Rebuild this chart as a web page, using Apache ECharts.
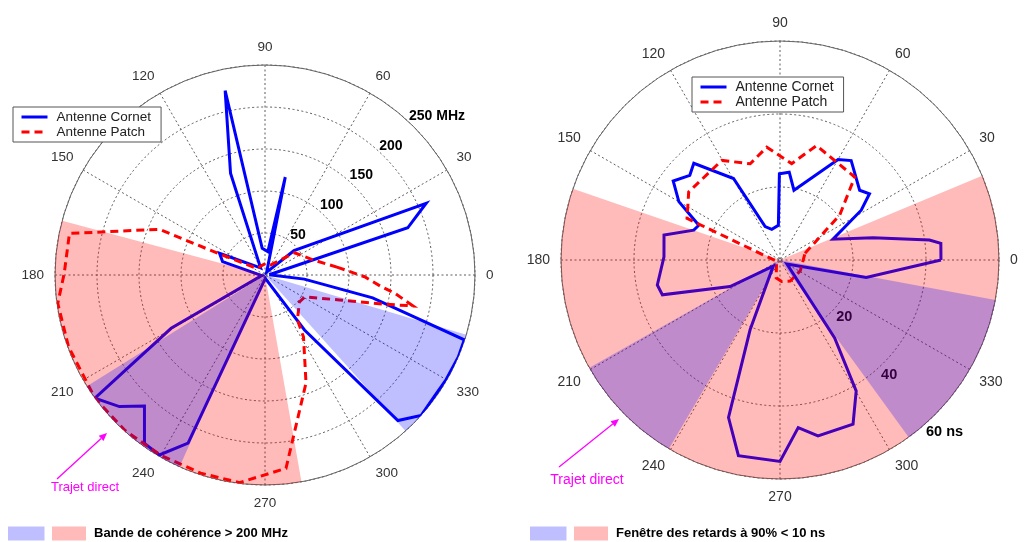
<!DOCTYPE html>
<html>
<head>
<meta charset="utf-8">
<script src="https://cdn.jsdelivr.net/npm/echarts@6.0.0/dist/echarts.min.js"></script>
<style>
html,body{margin:0;padding:0;background:#fff;}
#c{width:1024px;height:542px;}
</style>
</head>
<body>
<div id="c"></div>
<script>
// ---------------- DATA ----------------
const seriesNames = ['Antenne Cornet', 'Antenne Patch'];

const leftRadiusTicks = [50, 100, 150, 200, 250];
const leftRadiusLabels = ['50', '100', '150', '200', '250 MHz'];
const rightRadiusTicks = [20, 40, 60];
const rightRadiusLabels = ['20', '40', '60 ns'];

// [radius, angle in degrees]  -- left: coherence bandwidth (MHz)
const leftCornet = [
  [5, 3], [179, 18.3], [210, 24], [45, 40], [4, 60], [119, 78.3], [28, 83], [32, 96],
  [224.5, 102.2], [128, 108.7], [10, 122], [60, 154.5], [53, 162.5], [4, 190],
  [128.5, 209.6], [250, 215.9], [233.6, 222.1], [212, 227.4], [246.5, 234.4],
  [248.4, 239.6], [220, 245.4], [4, 275], [80.6, 305.7], [234.6, 312.4], [250, 318],
  [248, 324.3], [249, 330], [250, 337], [249.5, 342], [131, 348], [47, 354], [5, 3]
];
const leftPatch = [
  [87, 6], [60, 17.4], [44, 37], [14, 60], [14, 84], [12, 110], [12, 140], [62, 155.3],
  [137, 156.6], [238, 168], [239, 179.5], [249, 187.8], [249, 200], [250, 216], [249, 228],
  [248, 240], [248, 252], [249, 263], [231.5, 276.2], [137.5, 290.8], [87, 301.8],
  [66, 305.8], [52, 322], [54, 331], [93.5, 341.5], [148.4, 346.4], [180, 348.2],
  [156, 352], [139, 354.3], [118.5, 359], [87, 6]
];
// right: 90% delay window (ns)
const rightCornet = [
  [44.1, 0], [44.3, 5.9], [41.3, 7.6], [26.2, 13.5], [15.6, 21.5], [26.1, 31.5], [30.5, 36.5],
  [29, 41.2], [33.5, 54.4], [31.8, 60], [19.5, 78.7], [24.2, 84], [23.6, 90.4], [9.5, 92.7],
  [8.7, 105], [10, 114], [25.7, 119.7], [35.5, 131.7], [33.9, 136.8], [36.4, 143.5], [32, 150],
  [24.2, 156.8], [25, 160.9], [32.5, 167.9], [31.8, 178.4], [34.3, 191.5], [33.6, 196.5],
  [15.5, 208], [2.5, 222], [20.8, 246.8], [45.4, 251.9], [54.8, 258], [55.2, 270],
  [46.2, 276.2], [49.3, 282.2], [49.2, 294], [41.5, 300.2], [26.1, 305], [2.2, 330],
  [24.1, 348.5], [44.1, 0]
];
const rightPatch = [
  [7.1, 15], [20.5, 37], [30.6, 48], [32.9, 72.3], [26.6, 83.1], [31.1, 96.7], [27.6, 107.2],
  [31.6, 120.3], [31.2, 143.3], [27.9, 155.9], [1, 200], [5, 258], [5.9, 274.5], [6.4, 296],
  [6.3, 332], [7.1, 15]
];

// shaded angular sectors [startAngle, endAngle]
const leftPinkSectors = [[165, 280]];
const leftBlueSectors = [[212, 246], [312, 343.5]];
const rightPinkSectors = [[161, 382.6]];
const rightBlueSectors = [[209.5, 239.5], [306, 349.5]];

const bottomLegendLeft = 'Bande de cohérence > 200 MHz';
const bottomLegendRight = 'Fenêtre des retards à 90% < 10 ns';
const annotationText = 'Trajet direct';

// ---------------- STYLE / LAYOUT ----------------
const FONT = '"Liberation Sans", Arial, sans-serif';
const PINK = 'rgba(255,0,0,0.27)';
const BLUE = 'rgba(0,0,255,0.25)';
const GRID = {color: '#333', width: 0.8, type: [2, 2.5]};

function angleAxis(i, fs) {
  return {
    polarIndex: i, type: 'value', min: 0, max: 360, interval: 30,
    startAngle: 0, clockwise: false,
    axisLine: {show: true, lineStyle: {color: '#666', width: 1}},
    axisTick: {show: false},
    axisLabel: {show: true, margin: 11, color: '#333', fontSize: fs, fontFamily: FONT,
      formatter: v => (v >= 360 ? '' : String(v))},
    splitLine: {show: true, lineStyle: GRID}
  };
}
function radiusAxis(i, ticks) {
  return {
    polarIndex: i, type: 'value', min: 0, max: ticks[ticks.length - 1],
    interval: ticks[1] - ticks[0],
    axisLine: {show: false}, axisTick: {show: false}, axisLabel: {show: false},
    splitLine: {show: true, lineStyle: GRID}
  };
}
function sectorSeries(i, sectors, rMax, color, z) {
  return {
    type: 'custom', coordinateSystem: 'polar', polarIndex: i, z: z, silent: true, clip: false,
    data: sectors.map(s => [rMax, s[0], s[1]]),
    encode: {radius: 0, angle: 1},
    renderItem: function (params, api) {
      const r = api.value(0), a1 = api.value(1), a2 = api.value(2);
      const pts = [api.coord([0, a1])];
      const n = Math.max(2, Math.ceil(Math.abs(a2 - a1)));
      for (let k = 0; k <= n; k++) pts.push(api.coord([r, a1 + (a2 - a1) * k / n]));
      return {type: 'polygon', shape: {points: pts}, style: {fill: color}};
    }
  };
}
function lineSeries(i, name, data, color, dashed) {
  return {
    type: 'line', name: name, coordinateSystem: 'polar', polarIndex: i, data: data,
    symbol: 'none', z: 3, clip: false, silent: true,
    lineStyle: {color: color, width: 3, type: dashed ? [8, 5] : 'solid', join: 'miter', miterLimit: 6},
    itemStyle: {color: color}
  };
}
function radiusLabelSeries(i, ticks, labels, ang, offset, fs) {
  return {
    type: 'scatter', coordinateSystem: 'polar', polarIndex: i, z: 2, silent: true,
    data: ticks.map(v => [v, ang]), symbolSize: 1, itemStyle: {color: 'rgba(0,0,0,0)'},
    label: {show: true, position: offset, align: 'left', verticalAlign: 'middle',
      formatter: p => labels[p.dataIndex], fontSize: fs, fontWeight: 'bold', opacity: 1,
      color: '#000', fontFamily: FONT}
  };
}
function legend(left, top, fs) {
  return {
    data: seriesNames, orient: 'vertical', left: left, top: top, selectedMode: false,
    backgroundColor: '#fff', borderColor: '#555', borderWidth: 1, borderRadius: 0,
    padding: [3, 10, 3, 7], itemGap: 1, itemWidth: 26, itemHeight: 14, z: 10,
    itemStyle: {opacity: 0},
    lineStyle: {width: 3},
    textStyle: {fontSize: fs, fontFamily: FONT, color: '#222', padding: [0, 0, 0, 4]}
  };
}
function arrow(x1, y1, x2, y2) {
  const dx = x2 - x1, dy = y2 - y1, L = Math.hypot(dx, dy), ux = dx / L, uy = dy / L;
  const hl = 8, hw = 3.5, bx = x2 - hl * ux, by = y2 - hl * uy;
  return [
    {type: 'line', z: 100, shape: {x1: x1, y1: y1, x2: bx, y2: by}, style: {stroke: '#ff00ff', lineWidth: 1.3}},
    {type: 'polygon', z: 100, shape: {points: [[x2, y2], [bx - hw * uy, by + hw * ux], [bx + hw * uy, by - hw * ux]]}, style: {fill: '#ff00ff'}}
  ];
}
function bottomLegend(x, text) {
  return [
    {type: 'rect', z: 100, shape: {x: x, y: 526.5, width: 36.5, height: 14}, style: {fill: BLUE}},
    {type: 'rect', z: 100, shape: {x: x + 44, y: 526.5, width: 34, height: 14}, style: {fill: PINK}},
    {type: 'text', z: 100, style: {text: text, x: x + 86, y: 533.5, fill: '#000',
      font: 'bold 13px ' + FONT, align: 'left', verticalAlign: 'middle'}}
  ];
}

const chart = echarts.init(document.getElementById('c'), null, {width: 1024, height: 542});
chart.setOption({
  animation: false,
  backgroundColor: '#fff',
  polar: [
    {center: [265, 275], radius: 210},
    {center: [780, 260], radius: 219}
  ],
  angleAxis: [angleAxis(0, 13.5), angleAxis(1, 14)],
  radiusAxis: [radiusAxis(0, leftRadiusTicks), radiusAxis(1, rightRadiusTicks)],
  legend: [legend(13, 107, 13.5), legend(692, 77, 14)],
  series: [
    radiusLabelSeries(0, leftRadiusTicks, leftRadiusLabels, 45, [-4, -10], 14),
    radiusLabelSeries(1, rightRadiusTicks, rightRadiusLabels, 308, [11.7, 0], 14.5),
    lineSeries(0, seriesNames[0], leftCornet, '#0000ff', false),
    lineSeries(0, seriesNames[1], leftPatch, '#ff0000', true),
    lineSeries(1, seriesNames[0], rightCornet, '#0000ff', false),
    lineSeries(1, seriesNames[1], rightPatch, '#ff0000', true),
    sectorSeries(0, leftPinkSectors, leftRadiusTicks[leftRadiusTicks.length - 1], PINK, 5),
    sectorSeries(0, leftBlueSectors, leftRadiusTicks[leftRadiusTicks.length - 1], BLUE, 6),
    sectorSeries(1, rightPinkSectors, rightRadiusTicks[rightRadiusTicks.length - 1], PINK, 5),
    sectorSeries(1, rightBlueSectors, rightRadiusTicks[rightRadiusTicks.length - 1], BLUE, 6)
  ],
  graphic: [].concat(
    bottomLegend(8, bottomLegendLeft),
    bottomLegend(530, bottomLegendRight),
    arrow(57, 479, 107, 433),
    arrow(559, 467, 619, 419),
    [
      {type: 'text', z: 100, style: {text: annotationText, x: 85, y: 487, fill: '#ff00ff',
        font: '13px ' + FONT, align: 'center', verticalAlign: 'middle'}},
      {type: 'text', z: 100, style: {text: annotationText, x: 587, y: 480, fill: '#ff00ff',
        font: '14px ' + FONT, align: 'center', verticalAlign: 'middle'}}
    ]
  )
});
</script>
</body>
</html>
